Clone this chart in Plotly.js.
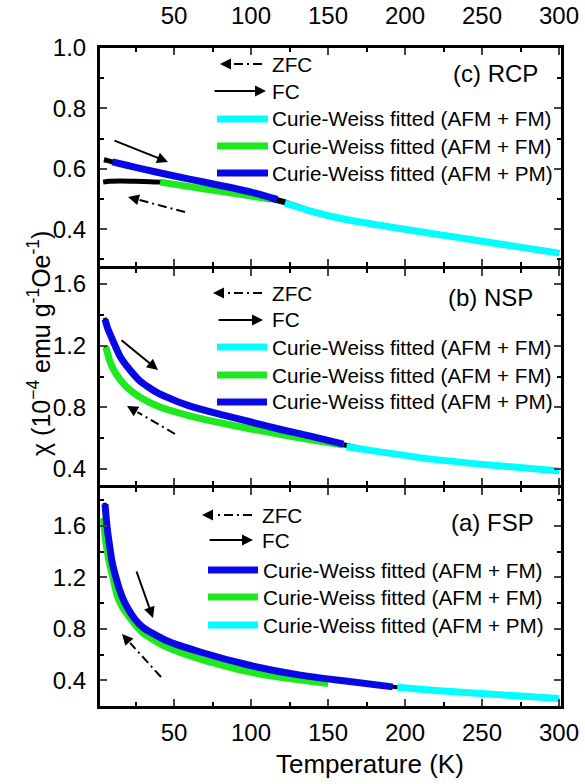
<!DOCTYPE html>
<html><head><meta charset="utf-8">
<script src="https://cdn.plot.ly/plotly-3.0.1.min.js"></script>
<style>html,body{margin:0;padding:0;background:#fff}#chart{width:585px;height:784px}</style>
</head><body><div id="chart"></div>
<script>
// ---------- Panel (c) RCP ----------
const rcpFcT   = [4.5, 7, 10, 20, 30, 45, 60, 80, 100, 120, 140, 160, 185, 210, 250, 300];
const rcpFcChi = [0.630, 0.627, 0.623, 0.611, 0.599, 0.582, 0.566, 0.545, 0.523, 0.494, 0.459, 0.435, 0.413, 0.393, 0.361, 0.322];
const rcpZfcT   = [4, 8, 15, 25, 35, 41, 60, 80, 100, 113, 125, 140, 160, 185, 210, 250, 300];
const rcpZfcChi = [0.556, 0.559, 0.560, 0.559, 0.557, 0.556, 0.541, 0.526, 0.510, 0.499, 0.483, 0.457, 0.433, 0.412, 0.392, 0.360, 0.321];
const rcpCyanT   = [122, 140, 160, 185, 210, 250, 300];
const rcpCyanChi = [0.487, 0.458, 0.434, 0.412, 0.392, 0.360, 0.321];
const rcpGreenT   = [41, 60, 80, 100, 113];
const rcpGreenChi = [0.556, 0.541, 0.526, 0.510, 0.499];
const rcpBlueT   = [10, 20, 30, 45, 60, 80, 100, 117];
const rcpBlueChi = [0.623, 0.611, 0.599, 0.582, 0.566, 0.545, 0.523, 0.499];

// ---------- Panel (b) NSP ----------
const nspFcT   = [5, 7, 10, 15, 20, 28, 40, 60, 80, 100, 120, 140, 160, 185, 212, 255, 300];
const nspFcChi = [1.38, 1.31, 1.24, 1.13, 1.06, 0.97, 0.89, 0.81, 0.755, 0.705, 0.655, 0.61, 0.562, 0.51, 0.471, 0.426, 0.388];
const nspZfcT   = [5.5, 8, 10.5, 15, 20, 28, 40, 60, 80, 100, 130, 160, 185, 212, 255, 300];
const nspZfcChi = [1.20, 1.11, 1.05, 0.98, 0.925, 0.865, 0.805, 0.745, 0.70, 0.66, 0.605, 0.555, 0.51, 0.471, 0.426, 0.388];
const nspCyanT   = [162, 185, 212, 255, 300];
const nspCyanChi = [0.545, 0.51, 0.471, 0.426, 0.388];
const nspGreenT   = [5.8, 8, 10.5, 15, 20, 28, 40, 60, 80, 100, 130, 160];
const nspGreenChi = [1.19, 1.11, 1.05, 0.98, 0.925, 0.865, 0.805, 0.745, 0.70, 0.66, 0.605, 0.555];
const nspBlueT   = [5.2, 7, 10, 15, 20, 28, 40, 60, 80, 100, 120, 140, 160];
const nspBlueChi = [1.37, 1.31, 1.24, 1.13, 1.06, 0.97, 0.89, 0.81, 0.755, 0.705, 0.655, 0.61, 0.562];

// ---------- Panel (a) FSP ----------
const fspFcT   = [5, 6.5, 8.4, 10, 13, 16, 19.5, 25, 30, 45, 67, 99, 132, 160, 192, 220, 249, 275, 300];
const fspFcChi = [1.78, 1.60, 1.43, 1.31, 1.17, 1.06, 0.97, 0.87, 0.81, 0.71, 0.62, 0.517, 0.44, 0.396, 0.349, 0.32, 0.298, 0.277, 0.259];
const fspZfcT   = [4, 5.5, 7, 8.5, 10.4, 13, 16, 19.5, 25, 30, 45, 67, 99, 130, 150];
const fspZfcChi = [1.66, 1.50, 1.38, 1.29, 1.20, 1.06, 0.98, 0.915, 0.83, 0.765, 0.66, 0.565, 0.465, 0.405, 0.375];
const fspBlueT   = [5.2, 6.5, 8.4, 10, 13, 16, 19.5, 25, 30, 45, 67, 99, 132, 160, 192];
const fspBlueChi = [1.77, 1.60, 1.43, 1.31, 1.17, 1.06, 0.97, 0.87, 0.81, 0.71, 0.62, 0.517, 0.44, 0.396, 0.349];
const fspGreenT   = [4, 5.5, 7, 8.5, 10.4, 13, 16, 19.5, 25, 30, 45, 67, 99, 130, 150];
const fspGreenChi = [1.66, 1.50, 1.38, 1.29, 1.20, 1.06, 0.98, 0.915, 0.83, 0.765, 0.66, 0.565, 0.465, 0.405, 0.375];
const fspCyanT   = [195, 220, 249, 275, 300];
const fspCyanChi = [0.345, 0.32, 0.298, 0.277, 0.259];

const legendLabels = ["Curie-Weiss fitted (AFM + FM)", "Curie-Weiss fitted (AFM + FM)", "Curie-Weiss fitted (AFM + PM)"];
const panelLabels = ["(a) FSP", "(b) NSP", "(c) RCP"];
const xTicks = [50, 100, 150, 200, 250, 300];

const CYAN = '#00FFFF', GREEN = '#1EE81E', BLUE = '#0808E6';
const FONT = 'Arial, "Liberation Sans", sans-serif';

function line(x, y, xa, ya, color, w) {
  return {x: x, y: y, xaxis: xa, yaxis: ya, type: 'scatter', mode: 'lines',
          line: {color: color, width: w, shape: 'spline', smoothing: 0.6},
          showlegend: false, hoverinfo: 'skip'};
}

const traces = [
  line(fspFcT, fspFcChi, 'x', 'y', '#000', 4),
  line(fspZfcT, fspZfcChi, 'x', 'y', '#000', 4),
  line(fspGreenT, fspGreenChi, 'x', 'y', GREEN, 7),
  line(fspBlueT, fspBlueChi, 'x', 'y', BLUE, 7),
  line(fspCyanT, fspCyanChi, 'x', 'y', CYAN, 7),
  line(nspFcT, nspFcChi, 'x2', 'y2', '#000', 4),
  line(nspZfcT, nspZfcChi, 'x2', 'y2', '#000', 4),
  line(nspGreenT, nspGreenChi, 'x2', 'y2', GREEN, 7),
  line(nspBlueT, nspBlueChi, 'x2', 'y2', BLUE, 7),
  line(nspCyanT, nspCyanChi, 'x2', 'y2', CYAN, 7),
  line(rcpFcT, rcpFcChi, 'x3', 'y3', '#000', 5),
  line(rcpZfcT, rcpZfcChi, 'x3', 'y3', '#000', 5),
  line(rcpGreenT, rcpGreenChi, 'x3', 'y3', GREEN, 7),
  line(rcpBlueT, rcpBlueChi, 'x3', 'y3', BLUE, 7),
  line(rcpCyanT, rcpCyanChi, 'x3', 'y3', CYAN, 7)
];

const L = 100, R = 561, TOP = 48, BOT = 706, H = BOT - TOP;
const px = p => (p - L) / (R - L);
const py = p => (BOT - p) / H;

const LW = 3;
const xBase = {
  range: [1.95, 301.3], tickvals: xTicks, ticks: 'inside', ticklen: 7, tickwidth: 2,
  showline: true, linewidth: LW, linecolor: '#000', mirror: 'ticks', showgrid: false, zeroline: false,
  minor: {dtick: 25, tick0: 0, ticks: 'inside', ticklen: 4, tickwidth: 2, tickcolor: '#000'},
  tickfont: {family: FONT, size: 24, color: '#000'}
};
function yAx(range, dtick, minor, dom, anchor) {
  return {domain: dom, anchor: anchor, range: range, dtick: dtick, tick0: 0, tickformat: '.1f',
    ticks: 'inside', ticklen: 7, tickwidth: 2, showline: true, linewidth: LW, linecolor: '#000',
    mirror: 'ticks', showgrid: false, zeroline: false,
    minor: {dtick: minor, tick0: 0, ticks: 'inside', ticklen: 4, tickwidth: 2, tickcolor: '#000'},
    tickfont: {family: FONT, size: 24, color: '#000'}, ticklabelstandoff: 6};
}

const shapes = [], annotations = [];
function legLine(x0, x1, y, color) {
  shapes.push({type: 'line', xref: 'paper', yref: 'paper', x0: px(x0), x1: px(x1), y0: py(y), y1: py(y),
    line: {color: color, width: 7}});
}
function txt(x, y, t, size, anchor) {
  annotations.push({xref: 'paper', yref: 'paper', x: px(x), y: py(y), text: t, showarrow: false,
    xanchor: anchor || 'left', yanchor: 'middle', font: {family: FONT, size: size, color: '#000'}});
}
function solidArrow(x0, y0, x1, y1) {
  annotations.push({xref: 'paper', yref: 'paper', x: px(x1), y: py(y1), ax: x0 - x1, ay: y0 - y1,
    text: '', showarrow: true, arrowhead: 2, arrowsize: 1.1, arrowwidth: 2, arrowcolor: '#000'});
}
function dashArrow(x0, y0, x1, y1) {
  const dx = x1 - x0, dy = y1 - y0, len = Math.hypot(dx, dy);
  const ux = dx / len, uy = dy / len;
  const sx = x1 - ux * 12, sy = y1 - uy * 12;
  shapes.push({type: 'line', xref: 'paper', yref: 'paper', x0: px(x0), y0: py(y0), x1: px(sx), y1: py(sy),
    line: {color: '#000', width: 2, dash: '9px,4px,2px,4px'}});
  annotations.push({xref: 'paper', yref: 'paper', x: px(x1), y: py(y1), ax: -ux * 10, ay: -uy * 10,
    text: '', showarrow: true, arrowhead: 2, arrowsize: 1.1, arrowwidth: 2, arrowcolor: '#000'});
}

const FS = 20.7;
// Panel c legend
dashArrow(262, 64, 220, 64); txt(270, 64, 'ZFC', FS);
solidArrow(213, 91, 266, 91); txt(270, 91, 'FC', FS);
legLine(217, 268, 119, CYAN); txt(270, 119, legendLabels[0], FS);
legLine(217, 268, 146, GREEN); txt(270, 146, legendLabels[1], FS);
legLine(217, 268, 173, BLUE); txt(270, 173, legendLabels[2], FS);
txt(451, 73, panelLabels[2], 24);
solidArrow(113, 140, 168, 162);
dashArrow(185, 212, 128, 197);

// Panel b legend
dashArrow(262, 293, 213, 293); txt(270, 293, 'ZFC', FS);
solidArrow(217, 320, 263, 320); txt(270, 320, 'FC', FS);
legLine(217, 267, 347, CYAN); txt(270, 347, legendLabels[0], FS);
legLine(217, 267, 375, GREEN); txt(270, 375, legendLabels[1], FS);
legLine(217, 267, 402, BLUE); txt(270, 402, legendLabels[2], FS);
txt(446, 297, panelLabels[1], 24);
solidArrow(120, 339, 158, 370);
dashArrow(175, 434, 127, 406);

// Panel a legend
dashArrow(252, 515, 202, 515); txt(260, 515, 'ZFC', FS);
solidArrow(208, 540, 253, 540); txt(260, 540, 'FC', FS);
legLine(208, 258, 570, BLUE); txt(261, 570, legendLabels[0], FS);
legLine(208, 258, 597, GREEN); txt(261, 597, legendLabels[1], FS);
legLine(208, 258, 625, CYAN); txt(261, 625, legendLabels[2], FS);
txt(449, 522, panelLabels[0], 24);
solidArrow(136, 570, 153, 618);
dashArrow(161, 677, 122, 634);

annotations.push({xref: 'paper', yref: 'paper', x: px(370), y: py(764), text: 'Temperature (K)', showarrow: false,
  xanchor: 'center', yanchor: 'middle', font: {family: FONT, size: 26, color: '#000'}});
annotations.push({xref: 'paper', yref: 'paper', x: px(39), y: py(344), textangle: -90,
  text: 'χ (10<sup>−4</sup> emu g<sup>-1</sup>Oe<sup>-1</sup>)', showarrow: false,
  xanchor: 'center', yanchor: 'middle', font: {family: FONT, size: 25, color: '#000'}});

const g = (LW / 2) / H;
const bA = py(486), bC = py(267);
const layout = {
  width: 585, height: 784, margin: {l: L, r: 585 - R, t: TOP, b: 784 - BOT},
  paper_bgcolor: '#fff', plot_bgcolor: '#fff', showlegend: false,
  xaxis: Object.assign({}, xBase, {anchor: 'y', side: 'bottom', ticklabelstandoff: 3}),
  xaxis2: Object.assign({}, xBase, {anchor: 'y2', matches: 'x', showticklabels: false}),
  xaxis3: Object.assign({}, xBase, {anchor: 'y3', matches: 'x', side: 'top', ticklabelstandoff: 11}),
  yaxis: yAx([0.2, 1.9], 0.4, 0.2, [0, bA - g], 'x'),
  yaxis2: yAx([0.30, 1.70], 0.4, 0.2, [bA + g, bC - g], 'x2'),
  yaxis3: yAx([0.28, 1.0], 0.2, 0.1, [bC + g, 1], 'x3'),
  shapes: shapes, annotations: annotations
};

Plotly.newPlot('chart', traces, layout, {staticPlot: true, displayModeBar: false});
</script></body></html>
